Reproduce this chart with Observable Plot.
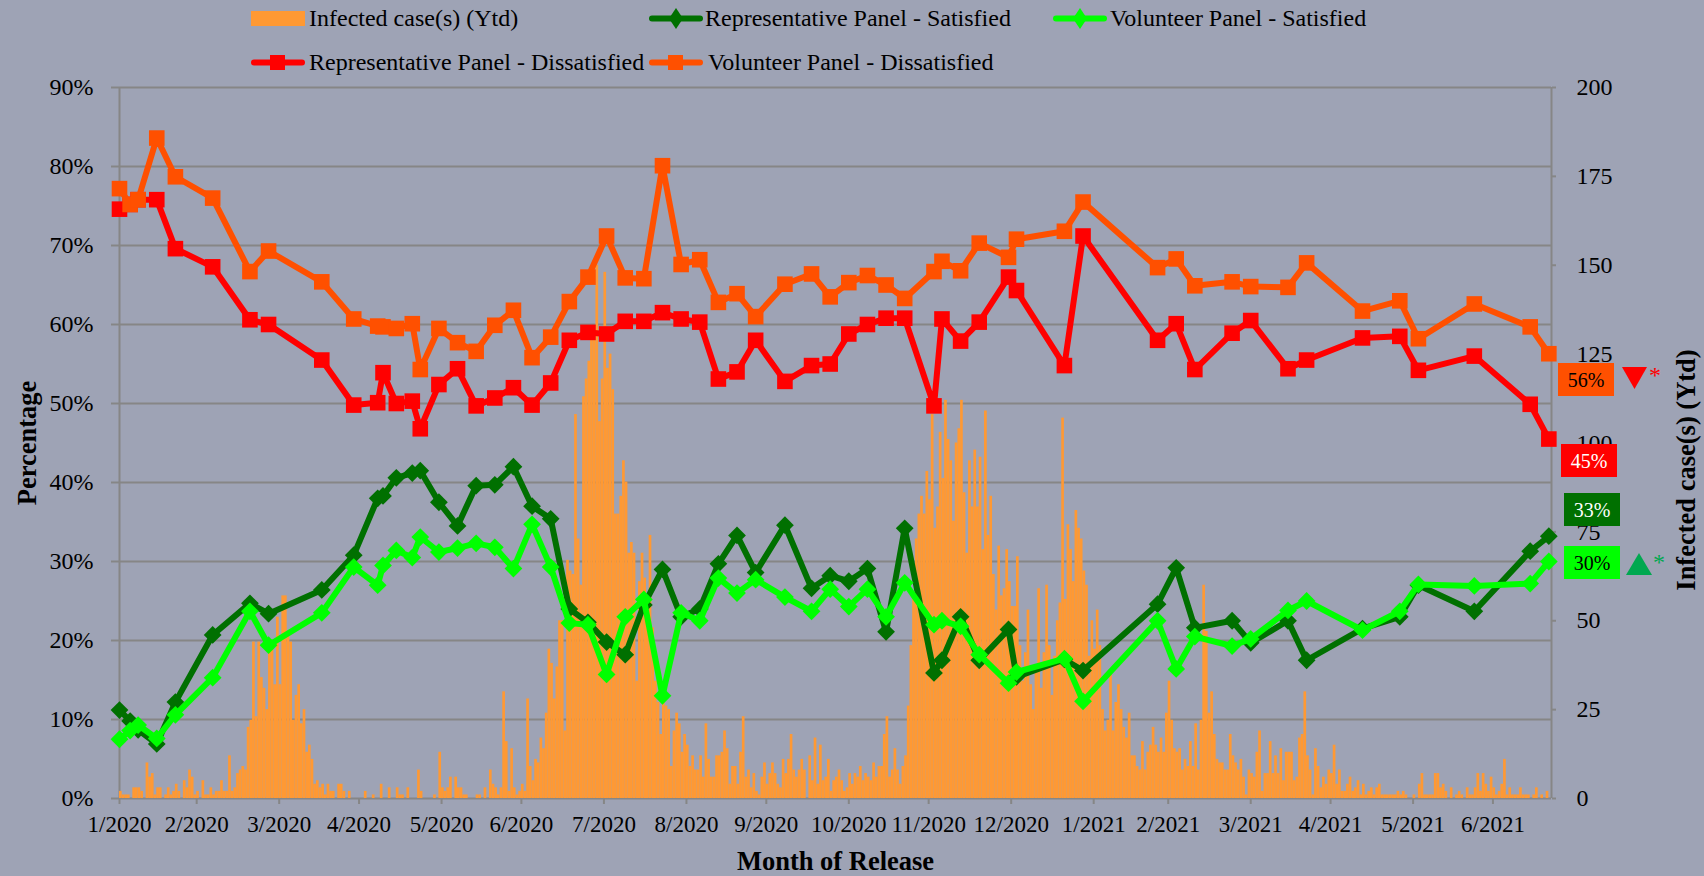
<!DOCTYPE html>
<html>
<head>
<meta charset="utf-8">
<script src="https://cdn.jsdelivr.net/npm/d3@7"></script>
<script src="https://cdn.jsdelivr.net/npm/@observablehq/plot@0.6"></script>
<style>
html,body{margin:0;padding:0;background:#9EA3B5;overflow:hidden}
#wrap{position:relative;width:1704px;height:876px;font-family:"Liberation Serif",serif;color:#000}
#wrap svg.plot{display:block}
.abs{position:absolute;white-space:nowrap;line-height:1}
.leg{font-size:24px}
.box{display:flex;align-items:center;justify-content:center;font-size:20px;width:56px;height:33px}
</style>
</head>
<body>
<div id="wrap"></div>
<script>
// Day offsets from the first axis tick (month-end dates label the axis)
const startDate = new Date(Date.UTC(2020, 0, 31));
const lastDay = 538;
const releaseDays = [0,4,7,14,21,35,49,56,76,88,97,99,104,110,113,120,127,134,141,148,155,162,169,176,183,190,197,204,211,218,225,232,239,250,260,267,274,281,288,295,306,309,316,323,334,337,355,362,390,397,404,418,425,439,446,467,481,488,509,530,537];
const repSatisfied = [11.2,9.8,8.7,6.9,12.2,20.7,24.7,23.4,26.4,30.8,38,38.3,40.6,41.2,41.5,37.5,34.5,39.6,39.7,42,37,35.4,24,22.3,19.8,18.2,24.5,29,23,24,29.7,33.3,28.6,34.6,26.6,28.2,27.5,29.1,21.1,34.2,15.9,17.5,23,17.5,21.4,15.4,17.6,16.2,24.6,29.2,21.6,22.5,19.7,22.5,17.5,21.5,23,27,23.7,31.3,33.2];
const volSatisfied = [7.5,8.6,9.3,7.6,10.6,15.3,23.7,19.4,23.5,29.3,27,29.5,31.4,30.5,33.1,31.2,31.7,32.3,31.8,29.1,34.7,29.3,22.2,22,15.7,23,25.2,13,23.5,22.5,27.9,26,27.7,25.5,23.7,26.5,24.3,26.5,23,27.3,22,22.5,21.8,18.2,14.6,16,17.7,12.3,22.5,16.4,20.5,19.3,20.2,23.8,25,21.3,23.7,27.1,26.9,27.2,30];
const repDissatisfied = [74.6,75.2,75.8,75.8,69.6,67.3,60.6,60,55.5,49.8,50.1,53.9,50,50.3,46.8,52.4,54.4,49.7,50.7,52,49.8,52.6,58,59,58.8,60.4,60.4,61.5,60.7,60.3,53.1,54,58,52.8,54.8,55,58.8,60,60.8,60.8,49.7,60.7,57.9,60.3,66,64.3,54.8,71.2,58,60.1,54.3,58.9,60.5,54.4,55.5,58.3,58.5,54.2,56,49.9,45.5];
const volDissatisfied = [77.2,75.2,75.8,83.6,78.7,76,66.7,69.3,65.4,60.7,59.8,59.7,59.5,60.1,54.3,59.5,57.7,56.6,59.9,61.8,55.8,58.4,62.9,66,71.2,65.9,65.8,80.1,67.6,68.2,62.8,63.9,61,65.1,66.4,63.5,65.3,66.2,65,63.3,66.7,68,66.8,70.3,68.5,70.8,71.8,75.5,67.2,68.3,64.9,65.4,64.8,64.7,67.8,61.7,63,58.2,62.6,59.7,56.3];

// Daily infected cases, in stretches that begin at a given day offset
const casesFromDay0 = [2,1,1,1,0,3,3,3,2,0,10,6,7,1,3,3,0,1,3,1,2,4,2,0,5,3,8,6,1,2,0,5,1,1,3,1,2,2,5,2,2,12,2,3,7,8,9,8,20,22,44,23,44,34,31,25,42,42,32,51,32,57,57,46,44,22,29,32,21,25,13,15,11,4,5,3,4,1,4,2,2,0,4,4,2,0,2,0,0,0,0,0,2,0,0,1,0,0,4,0,0,3,0,0,3,1,1,0,3,0,0,0];
const casesFromDay112 = [8,2,0,0,0,0,1,0,13,3,2,3,6,0,6,3,3,1,1,0,0,0,1,1,0,3,0,8,4,3,1,3,30,16,2,14,3,1,2,4,2,28,9,5,11,10,17,14,24,42,38,28,37,50,50,19];
const casesFromDay168 = [67,64,63,108,73,60,113,118,123,129,129,150,106,118,148,121,125,115,80,80,85,95,89,69,72,69,33,61,69,62,52,74,48,33,27,18,27,26,25,9,19,24,21,13,18,15,9,12,8,8,12,6,21,11,6,6,12,12,13,19,14,4,9,9,4,13,23,6,8,3,7,2,1,6,10,4,7,10,7,4,3,11,7,11,18,8,6,8,11,8,0,12,5,17,4,15,5,6,11,2,5,6,8,5,2,3,7,4,7,6,9,5,7,6,5,10,6,9];
const casesFromDay286 = [9,18,23,6,8,14,8,4,9,12,26,43,56,73,80,85,80,92,84,108,76,82,103,90,112,101,95,78,100,104,112,86,69,95,82,98,82,96,70,109,74,85,63,53,71,57,59,70,61,54,54,68,43,33,41,53,32,25,37,59,31,41,60,43,29,40,50,55,107,56,77,70,61,81,76,73,64,60,40,50,42,53,43,25,19,22,35,19,27,32,25,20,17,24,12,12,9,8,16,8,13,15,20,15,13,17,13,24,33,22,14,13,14,8,11,9,16,9,21,8,22,60,47,24,30,18,11,10,10,8,8,18,12,10,8,11,6,1,8,7,6,13,19,2,7,7,16,7,12,7];
const casesFromDay436 = [14,5,13,13,13,5,6,17,18,30,12,8,1,14,9,3,6,4,8];
const casesFromDay455 = [7,15,4,8,2,2,4,6,2,3,5,1,4,1,2,3,1,3,4,1,1,1,1,1,1,2,1,2,1,0,0,1,0,4,7,1,1,1,1,7,7,3,4,2,0,3,0,1,2,1,0,3,1,1,3,7,2,7,4,2,6,3,1,2,4,11,1,3,1,1,1,3,1,1,1,0,1,3,0,1,0,2,0];

const monthTickDates = ["2020-01-31","2020-02-29","2020-03-31","2020-04-30","2020-05-31","2020-06-30","2020-07-31","2020-08-31","2020-09-30","2020-10-31","2020-11-30","2020-12-31","2021-01-31","2021-02-28","2021-03-31","2021-04-30","2021-05-31","2021-06-30"];
const percentTicks = [0,10,20,30,40,50,60,70,80,90];
const caseTicks = [0,25,50,75,100,125,150,175,200];

const C = {cases:"#FF9933", repSat:"#007000", volSat:"#00FF00", repDis:"#FF0000", volDis:"#FF5000", grid:"#868686"};
const dayToDate = d => d3.utcDay.offset(startDate, d);
const casesToPercent = c => c * 90 / 200;

const caseRows = [[0,casesFromDay0],[112,casesFromDay112],[168,casesFromDay168],[286,casesFromDay286],[436,casesFromDay436],[455,casesFromDay455]]
  .flatMap(([s,a]) => a.map((v,i) => ({start: dayToDate(s+i), end: dayToDate(s+i+1), cases: v})));
const series = (values) => releaseDays.map((d,i) => ({date: dayToDate(d), value: values[i]}));
const lineMarks = (values, color, symbol, r) => [
  Plot.line(series(values), {x:"date", y:"value", stroke:color, strokeWidth:6, strokeLinejoin:"round"}),
  Plot.dot(series(values), {x:"date", y:"value", fill:color, symbol, r})
];

const chart = Plot.plot({
  width:1704, height:876,
  marginLeft:119, marginRight:153, marginTop:87, marginBottom:78,
  style:{background:"#9EA3B5", fontFamily:"'Liberation Serif',serif", color:"#000", overflow:"visible"},
  x:{type:"utc", domain:[startDate, dayToDate(lastDay)]},
  y:{domain:[0,90]},
  marks:[
    Plot.ruleY(percentTicks, {stroke:C.grid, strokeWidth:2}),
    Plot.ruleX([startDate, dayToDate(lastDay)], {stroke:C.grid, strokeWidth:2}),
    Plot.rect(caseRows, {x1:"start", x2:"end", y1:0, y2:d=>casesToPercent(d.cases), fill:C.cases}),
    Plot.axisY({ticks:percentTicks, tickFormat:d=>d+"%", anchor:"left", label:null, tickSize:8, tickPadding:18, fontSize:24, stroke:C.grid, strokeWidth:2, fill:"#000"}),
    Plot.axisY({ticks:caseTicks.map(casesToPercent), tickFormat:d=>String(Math.round(d*200/90)), anchor:"right", label:null, tickSize:4, tickPadding:21, fontSize:24, stroke:C.grid, strokeWidth:2, fill:"#000"}),
    Plot.axisX({ticks:monthTickDates.map(d=>new Date(d+"T00:00:00Z")), tickFormat:d3.utcFormat("%-m/%Y"), anchor:"bottom", label:null, tickSize:6, tickPadding:11, fontSize:23, stroke:C.grid, strokeWidth:2, fill:"#000"}),
    ...lineMarks(repSatisfied, C.repSat, "diamond2", 8),
    ...lineMarks(volSatisfied, C.volSat, "diamond2", 8),
    ...lineMarks(repDissatisfied, C.repDis, "square", 8.8),
    ...lineMarks(volDissatisfied, C.volDis, "square", 8.8),
    Plot.text(["Percentage"], {text:d=>d, frameAnchor:"left", textAnchor:"middle", dx:-92, rotate:-90, fontSize:26.5, fontWeight:"bold", fill:"#000"}),
    Plot.text(["Infected case(s) (Ytd)"], {text:d=>d, frameAnchor:"right", textAnchor:"middle", dx:135, dy:27, rotate:-90, fontSize:26.5, fontWeight:"bold", fill:"#000"}),
    Plot.text(["Month of Release"], {text:d=>d, frameAnchor:"bottom", dy:71, fontSize:26.5, fontWeight:"bold", fill:"#000"})
  ]
});
const wrap = document.getElementById("wrap");
wrap.appendChild(chart);

function add(html){ const t=document.createElement("template"); t.innerHTML=html.trim(); wrap.appendChild(t.content.firstChild); }
function lineSwatch(x,y,color,kind){
  const marker = kind==="square"
    ? `<rect x="19" y="4" width="15" height="15" fill="${color}"/>`
    : `<polygon points="27,1 34,11.5 27,22 20,11.5" fill="${color}"/>`;
  add(`<svg class="abs" style="left:${x}px;top:${y-11.5}px" width="54" height="23"><line x1="3" y1="11.5" x2="51" y2="11.5" stroke="${color}" stroke-width="6" stroke-linecap="round"/>${marker}</svg>`);
}
const legendRows = [
  ["Infected case(s) (Ytd)",309,18,null,251],
  ["Representative Panel - Satisfied",705,18,C.repSat,649,"diamond"],
  ["Volunteer Panel - Satisfied",1110,18,C.volSat,1053,"diamond"],
  ["Representative Panel - Dissatisfied",309,62,C.repDis,251,"square"],
  ["Volunteer Panel - Dissatisfied",708,62,C.volDis,649,"square"]
];
legendRows.forEach(([label,tx,ty,color,sx,kind])=>{
  if(color) lineSwatch(sx,ty,color,kind);
  else add(`<div class="abs" style="left:${sx}px;top:${ty-7}px;width:54px;height:15px;background:${C.cases}"></div>`);
  add(`<div class="abs leg" style="left:${tx}px;top:${ty-12}px">${label}</div>`);
});
const boxes = [
  ["56%",1558,363,C.volDis,"#000"],
  ["45%",1561,444,C.repDis,"#fff"],
  ["33%",1564,493,C.repSat,"#fff"],
  ["30%",1564,546,C.volSat,"#000"]
];
boxes.forEach(([t,x,y,bg,fg])=>add(`<div class="abs box" style="left:${x}px;top:${y}px;background:${bg};color:${fg}">${t}</div>`));
add(`<div class="abs" style="left:1622px;top:367px;width:25px;height:22px;background:#FF0000;clip-path:polygon(0 0,100% 0,50% 100%)"></div>`);
add(`<div class="abs" style="left:1626px;top:553px;width:26px;height:22px;background:#00A850;clip-path:polygon(50% 0,100% 100%,0 100%)"></div>`);
add(`<div class="abs" style="left:1649px;top:363px;font-size:24px;color:#FF0000">*</div>`);
add(`<div class="abs" style="left:1653px;top:550px;font-size:24px;color:#00A850">*</div>`);
</script>
</body>
</html>
